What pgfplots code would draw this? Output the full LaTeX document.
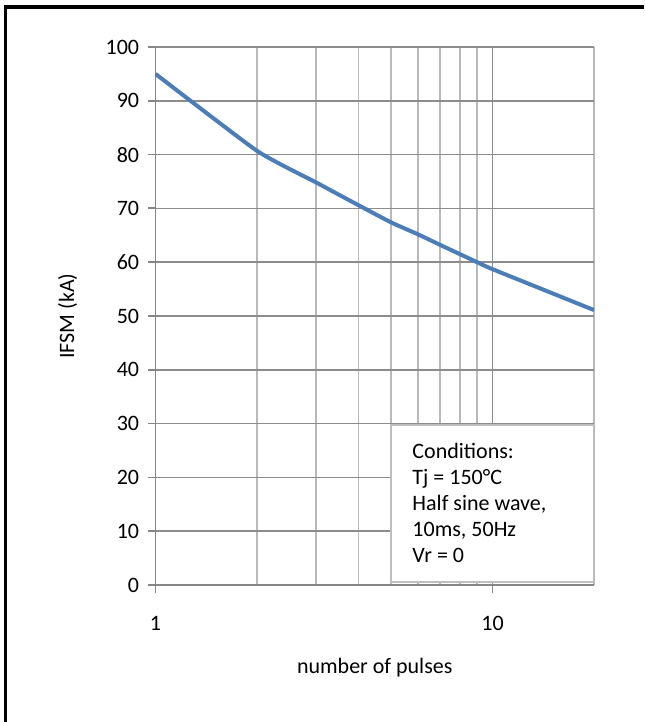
\documentclass[border=0pt]{standalone}
\usepackage{fontspec}
\setmainfont{Carlito}
\usepackage{pgfplots}
\pgfplotsset{compat=1.18}

\definecolor{series}{RGB}{74,126,187}
\definecolor{axisgray}{RGB}{134,134,134}
\definecolor{majgray}{RGB}{140,140,140}
\definecolor{mingray}{RGB}{185,185,185}
\definecolor{boxgray}{RGB}{190,190,190}

\begin{document}
\begin{tikzpicture}
% page size: 644 x 722 px at 0.5pt per px, axis box starts at (0,0)
\path[use as bounding box] (-77.75pt,-68.5pt) rectangle (244.25pt,292.5pt);

\begin{axis}[
    at={(0,0)}, anchor=south west,
    scale only axis,
    width=219.25pt, height=269pt,
    xmode=log,
    xmin=1, xmax=20,
    ymin=0, ymax=100,
    log ticks with fixed point,
    xtick={1,10},
    minor xtick={2,3,4,5,6,7,8,9,20},
    ytick={0,10,...,100},
    axis x line*=bottom, axis y line*=left,
    axis line style={-, draw=axisgray, line width=0.9pt},
    tick align=outside,
    major tick length=4pt, minor tick length=0pt,
    tick style={draw=axisgray, line width=0.9pt},
    xmajorgrids, xminorgrids, ymajorgrids,
    major grid style={draw=majgray, line width=0.85pt},
    minor grid style={draw=mingray, line width=0.85pt},
    /pgf/number format/assume math mode=true,
    ticklabel style={font=\fontsize{11}{13}\selectfont},
    yticklabel style={anchor=east, inner sep=0pt, xshift=-4pt},
    xticklabel style={anchor=north, inner sep=0pt, yshift=-11.5pt},
    xlabel={number of pulses},
    ylabel={IFSM (kA)},
    label style={font=\fontsize{11}{13}\selectfont},
    xlabel style={at={(axis description cs:0.5,-0.1543)}, anchor=center},
    ylabel style={at={(axis description cs:-0.2007,0.5)}, anchor=center, rotate=0},
]

\addplot[color=series, line width=2pt, mark=none, smooth, tension=0.3]
    coordinates {
    (1,95)(2,80.7)(3,74.8)(4,70.6)(5,67.4)(6,65.2)(7,63.2)(8,61.5)(9,60)(10,58.7)(20,51.1)
    };

\draw[draw=boxgray, fill=white, line width=0.9pt] (axis cs:5,0.6) rectangle (axis cs:20,29.7);
\node[anchor=north west, inner sep=0pt, align=left, font=\fontsize{11}{13}\selectfont]
    at ([xshift=10.5pt, yshift=-9pt]axis cs:5,29.7)
    {Conditions:\\Tj = 150°C\\Half sine wave,\\10ms, 50Hz\\Vr = 0};

\end{axis}

% outer frame: only left and top edges are visible
\draw[line width=1.75pt] (-75pt,-68.5pt) -- (-75pt,289pt) -- (244.25pt,289pt);
\end{tikzpicture}
\end{document}
